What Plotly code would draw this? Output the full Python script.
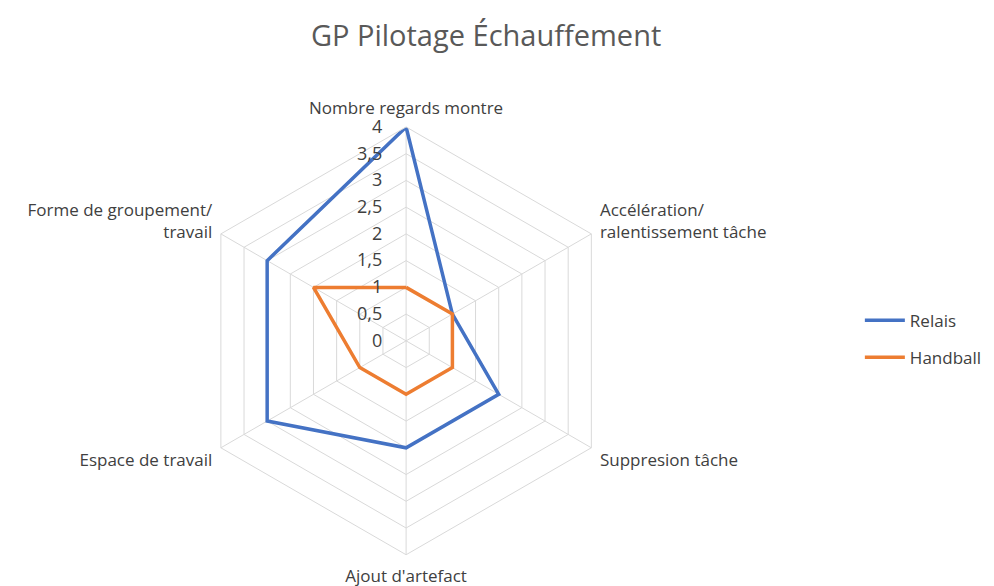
import plotly.graph_objects as go

categories = ["Nombre regards montre", "Accélération/<br>ralentissement tâche",
              "Suppresion tâche", "Ajout d'artefact", "Espace de travail",
              "Forme de groupement/<br>travail"]
relais = [4, 1, 2, 2, 3, 3]
handball = [1, 1, 1, 1, 1, 2]
tick_vals = [0, 0.5, 1, 1.5, 2, 2.5, 3, 3.5, 4]

FONT = "Open Sans"
GRID = "#d9d9d9"

fig = go.Figure()
fig.add_trace(go.Scatterpolar(r=relais + relais[:1], theta=categories + categories[:1],
                              mode="lines", name="Relais", legendgroup="a",
                              line=dict(color="#4472C4", width=3.5)))
fig.add_trace(go.Scatterpolar(r=handball + handball[:1], theta=categories + categories[:1],
                              mode="lines", name="Handball", legendgroup="b",
                              line=dict(color="#ED7D31", width=3.5)))

fig.update_layout(
    width=994, height=586,
    paper_bgcolor="white",
    separators=", ",
    margin=dict(l=0, r=0, t=0, b=0),
    font=dict(family=FONT, color="#404040", size=17),
    title=dict(text="GP Pilotage Échauffement", x=0.481, xanchor="center",
               y=0.952, yanchor="middle", yref="container",
               font=dict(size=29, color="#595959", family=FONT)),
    polar=dict(
        domain=dict(x=[0.184, 0.617], y=[0.067, 0.797]),
        gridshape="linear",
        bgcolor="white",
        radialaxis=dict(range=[0, 4], tickvals=tick_vals, angle=90, tickangle=90,
                        side="counterclockwise", showline=False,
                        gridcolor=GRID, ticks="outside", ticklen=17,
                        tickcolor="rgba(0,0,0,0)",
                        tickfont=dict(size=18, color="#404040")),
        angularaxis=dict(direction="clockwise", rotation=90, gridcolor=GRID,
                         linecolor=GRID, ticks="outside", ticklen=6,
                         tickcolor="rgba(0,0,0,0)",
                         tickfont=dict(size=17, color="#404040")),
    ),
    legend=dict(x=0.857, y=0.435, xanchor="left", yanchor="middle",
                font=dict(size=17, color="#404040"), tracegroupgap=12,
                itemwidth=40),
)

fig.write_html("out.html")
